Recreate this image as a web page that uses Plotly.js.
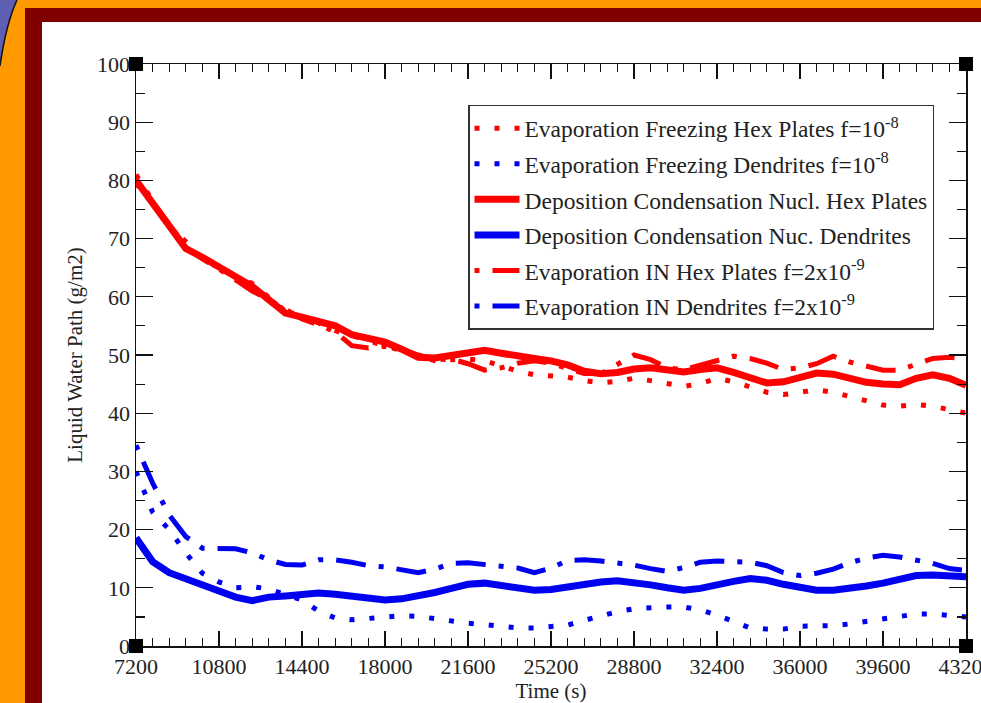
<!DOCTYPE html>
<html>
<head>
<meta charset="utf-8">
<script src="https://cdn.plot.ly/plotly-3.0.1.min.js"></script>
<style>
  html, body { margin:0; padding:0; width:981px; height:703px; overflow:hidden; background:#FF9900; }
  #frame { position:absolute; left:25px; top:8px; width:980px; height:720px; background:#800000; }
  #inner { position:absolute; left:42px; top:22px; width:960px; height:700px; background:#FFFFFF; }
  #deco { position:absolute; left:0; top:0; }
  #chart { position:absolute; left:0; top:0; width:981px; height:703px; }
  #chart text { font-family: "Liberation Serif", "Times New Roman", serif !important; }
</style>
</head>
<body>
<div id="frame"></div>
<div id="inner"></div>
<svg id="deco" width="40" height="80">
  <path d="M0,0 L17,0 Q6,24 0,66 Z" fill="#5E5EB2"/>
  <path d="M17,0 Q6,24 0,66" fill="none" stroke="#111" stroke-width="1.5"/>
</svg>
<div id="chart"></div>
<script>
// Time (s)
const timeSeconds = [7200, 7920, 8640, 9360, 10080, 10800, 11520, 12240, 12960, 13680,
  14400, 15120, 15840, 16560, 17280, 18000, 18720, 19440, 20160, 20880,
  21600, 22320, 23040, 23760, 24480, 25200, 25920, 26640, 27360, 28080,
  28800, 29520, 30240, 30960, 31680, 32400, 33120, 33840, 34560, 35280,
  36000, 36720, 37440, 38160, 38880, 39600, 40320, 41040, 41760, 42480, 43200];

// Liquid Water Path (g/m2)
const evapFreezingHexPlates = [81, 76.5, 72, 69.5, 66.5, 65, 63.5, 62.3, 60, 57.5,
  56.5, 55.5, 54.2, 53.3, 52.4, 51.6, 50.8, 49.8, 49, 49.2,
  49.3, 49, 48, 47.2, 46.6, 46.5, 46.2, 45.6, 45.2, 45.5,
  46, 45.6, 45.2, 44.6, 45.1, 46, 45.4, 44.6, 43.6, 43.2,
  43.6, 44, 43.6, 42.9, 42, 41.4, 41.2, 41.5, 41.2, 40.6, 40];

const evapFreezingDendrites = [30, 23, 20, 16, 12.5, 11, 10, 10.2, 9.8, 8.9,
  7.9, 6, 4.8, 4.5, 4.7, 5.1, 5.2, 5.1, 4.7, 4.2,
  3.9, 3.7, 3.3, 3.1, 3.1, 3.3, 3.6, 4.4, 5.2, 5.9,
  6.4, 6.6, 6.7, 6.7, 6.2, 5.3, 4.2, 3.1, 2.9, 2.9,
  3.4, 3.4, 3.5, 3.8, 4.2, 4.6, 5.1, 5.5, 5.5, 5.3, 5];

const depCondHexPlates = [80, 76, 72.5, 68.3, 66.8, 65.1, 63.5, 61.8, 59.5, 57.2,
  56.5, 55.7, 55, 53.5, 52.7, 52.2, 51, 49.6, 49.5, 50,
  50.5, 50.8, 50.3, 49.7, 49.4, 49, 48.3, 47.2, 46.8, 47,
  47.6, 47.8, 47.3, 47.1, 47.5, 47.8, 47, 46, 45.2, 45.4,
  46.2, 46.9, 46.7, 46, 45.3, 45, 44.9, 46, 46.6, 46, 44.8];

const depCondDendrites = [18.6, 14.5, 12.6, 11.6, 10.7, 9.5, 8.4, 7.8, 8.4, 8.6,
  8.9, 9.1, 8.9, 8.6, 8.2, 7.9, 8.1, 8.5, 9.2, 9.9,
  10.6, 10.8, 10.3, 9.9, 9.6, 9.7, 10.2, 10.7, 11, 11.2,
  10.9, 10.5, 10, 9.6, 9.9, 10.6, 11.1, 11.6, 11.3, 10.6,
  10, 9.6, 9.6, 9.8, 10.3, 10.8, 11.4, 12.1, 12.2, 12, 11.9];

const evapINHexPlates = [79.5, 76, 72.5, 68.5, 66.5, 64.8, 63, 61, 59.5, 57.8,
  56.2, 55.2, 54, 51.6, 51.2, 51.5, 51, 50, 49.2, 49.3,
  48.5, 47.4, 47.8, 48.6, 49, 48.6, 47.6, 46.8, 46.8, 48.3,
  50, 49.2, 47.8, 47.5, 48.3, 49, 49.8, 49.4, 48.6, 47.5,
  47.8, 48.5, 49.8, 48.8, 48, 47.4, 47.4, 48.5, 49.4, 49.6, 49.3];

const evapINDendrites = [34.5, 28, 22.5, 18.8, 16.8, 16.8, 16.7, 16, 14.8, 14,
  13.9, 14.8, 14.8, 14.4, 13.8, 13.6, 13, 12.6, 13.2, 14.2,
  14.3, 14, 13.9, 13.4, 12.6, 13.4, 14.7, 14.8, 14.6, 14.3,
  13.9, 13.3, 12.8, 13.5, 14.4, 14.6, 14.5, 14.4, 13.8, 12.6,
  12.1, 12.5, 13.2, 14.3, 15.1, 15.6, 15.3, 14.8, 14.2, 13.3, 13];

const seriesNames = [
  'Evaporation Freezing Hex Plates f=10<sup>-8</sup>',
  'Evaporation Freezing Dendrites f=10<sup>-8</sup>',
  'Deposition Condensation Nucl. Hex Plates',
  'Deposition Condensation Nuc. Dendrites',
  'Evaporation IN Hex Plates f=2x10<sup>-9</sup>',
  'Evaporation IN Dendrites f=2x10<sup>-9</sup>'
];

const xTickVals = [7200, 10800, 14400, 18000, 21600, 25200, 28800, 32400, 36000, 39600, 43200];
const xTickText = ['7200', '10800', '14400', '18000', '21600', '25200', '28800', '32400', '36000', '39600', '43200'];
const yTickVals = [0, 10, 20, 30, 40, 50, 60, 70, 80, 90, 100];
const yTickText = ['0', '10', '20', '30', '40', '50', '60', '70', '80', '90', '100'];

const RED = '#FF0000', BLUE = '#0000F0';
const DOT = '5px,15px';
const DASHDOT = '5px,13px,30px,13px';

const traces = [
  {y: evapFreezingHexPlates, name: seriesNames[0], line: {color: RED, width: 5, dash: DOT}},
  {y: evapFreezingDendrites, name: seriesNames[1], line: {color: BLUE, width: 5, dash: DOT}},
  {y: depCondHexPlates, name: seriesNames[2], line: {color: RED, width: 7, dash: 'solid'}},
  {y: depCondDendrites, name: seriesNames[3], line: {color: BLUE, width: 7, dash: 'solid'}},
  {y: evapINHexPlates, name: seriesNames[4], line: {color: RED, width: 5, dash: DASHDOT}},
  {y: evapINDendrites, name: seriesNames[5], line: {color: BLUE, width: 5, dash: DASHDOT}}
].map((t, i) => Object.assign({x: timeSeconds, type: 'scatter', mode: 'lines', hoverinfo: 'skip', legendgroup: 'g' + i}, t));

const FONT = '"Liberation Serif", "Times New Roman", serif';

function corner(xa, ya) {
  return {type: 'rect', xref: 'paper', yref: 'paper', xsizemode: 'pixel', ysizemode: 'pixel',
    xanchor: xa, yanchor: ya, x0: -7, x1: 7, y0: -7, y1: 7,
    fillcolor: '#000', line: {width: 0}, layer: 'above'};
}

const layout = {
  width: 981, height: 703, autosize: false,
  margin: {l: 136, r: 15, t: 64, b: 57, pad: 0},
  paper_bgcolor: 'rgba(0,0,0,0)', plot_bgcolor: 'rgba(0,0,0,0)',
  font: {family: FONT, color: '#222', size: 21},
  showlegend: true,
  legend: {
    x: 0.4, y: 0.9296, xanchor: 'left', yanchor: 'top',
    bgcolor: '#FFFFFF', bordercolor: '#333', borderwidth: 1.5,
    font: {family: FONT, size: 23.5, color: '#222'},
    itemwidth: 45, tracegroupgap: 2
  },
  xaxis: {
    range: [7200, 43200], tickmode: 'array', tickvals: xTickVals, ticktext: xTickText,
    showgrid: false, zeroline: false, showline: true, linecolor: '#111', linewidth: 1.5,
    mirror: 'ticks', ticks: 'inside', ticklen: 15, tickwidth: 1.2, tickcolor: '#111',
    ticklabeloverflow: 'allow',
    tickfont: {family: FONT, size: 22, color: '#222'},
    minor: {dtick: 720, tick0: 7200, ticks: 'inside', ticklen: 8, tickwidth: 1.2, tickcolor: '#111', showgrid: false},
    title: {text: 'Time (s)', font: {family: FONT, size: 21, color: '#222'}, standoff: 2}
  },
  yaxis: {
    range: [0, 100], tickmode: 'array', tickvals: yTickVals, ticktext: yTickText,
    showgrid: false, zeroline: false, showline: true, linecolor: '#111', linewidth: 1.5,
    mirror: 'ticks', ticks: 'inside', ticklen: 17, tickwidth: 1.2, tickcolor: '#111',
    tickfont: {family: FONT, size: 22, color: '#222'},
    minor: {dtick: 5, tick0: 0, ticks: 'inside', ticklen: 9, tickwidth: 1.2, tickcolor: '#111', showgrid: false},
    title: {text: 'Liquid Water Path (g/m2)', font: {family: FONT, size: 21, color: '#222'}, standoff: 8}
  },
  shapes: [corner(0, 0), corner(1, 0), corner(0, 1), corner(1, 1)]
};

Plotly.newPlot('chart', traces, layout, {displayModeBar: false, staticPlot: true});
</script>
</body>
</html>
